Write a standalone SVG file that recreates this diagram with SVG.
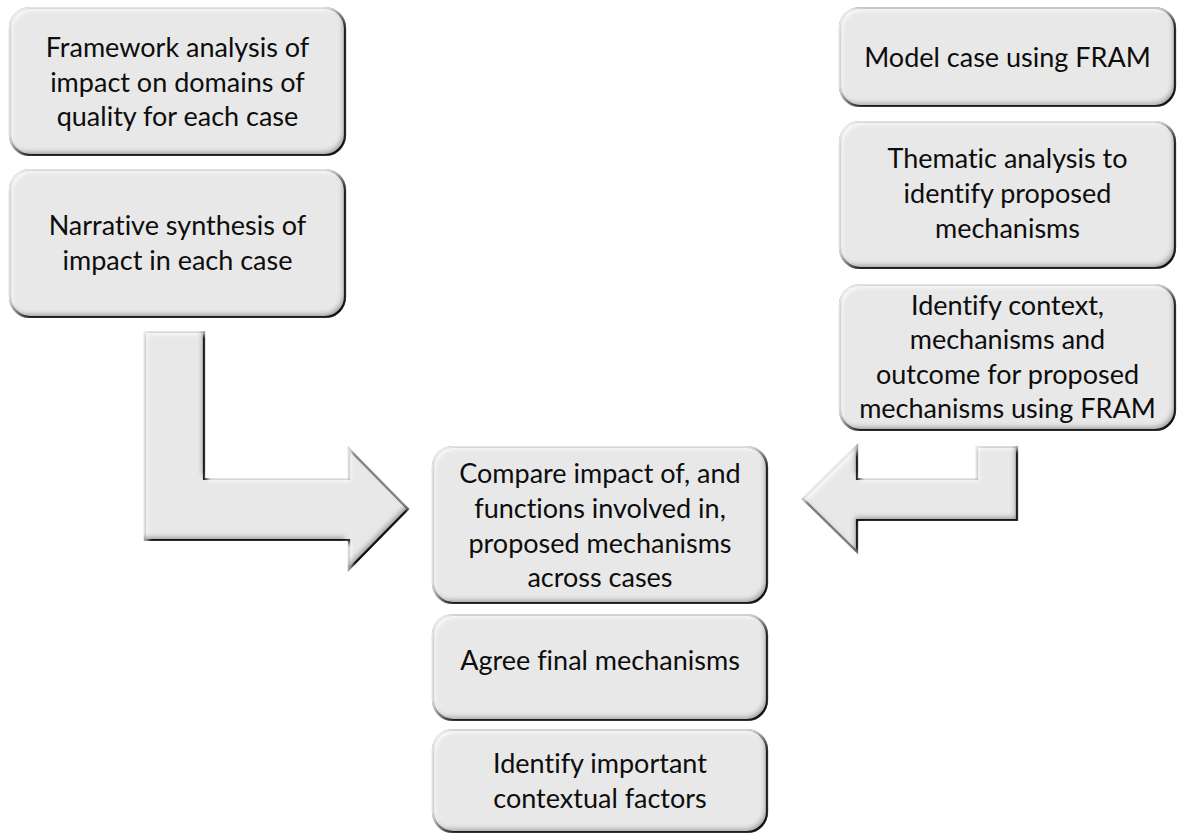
<svg xmlns="http://www.w3.org/2000/svg" width="1179" height="834" viewBox="0 0 1179 834">
  <defs>
    <!-- soft bevel: dark inner edge bottom/right, light inner edge top/left -->
    <filter id="bevel" x="-5%" y="-5%" width="110%" height="110%">
      <feFlood flood-color="#000" flood-opacity="0.6" result="dk"/>
      <feComposite in="dk" in2="SourceAlpha" operator="out" result="outside"/>
      <feGaussianBlur in="outside" stdDeviation="2.5" result="ob"/>
      <feOffset in="ob" dx="-3" dy="-4" result="obo"/>
      <feComposite in="obo" in2="SourceAlpha" operator="in" result="shadeIn"/>
      <feFlood flood-color="#fff" flood-opacity="0.9" result="lt"/>
      <feComposite in="lt" in2="SourceAlpha" operator="out" result="outsideL"/>
      <feGaussianBlur in="outsideL" stdDeviation="2" result="lb"/>
      <feOffset in="lb" dx="3" dy="3" result="lbo"/>
      <feComposite in="lbo" in2="SourceAlpha" operator="in" result="lightIn"/>
      <feMerge>
        <feMergeNode in="SourceGraphic"/>
        <feMergeNode in="lightIn"/>
        <feMergeNode in="shadeIn"/>
      </feMerge>
    </filter>
    <style>
      .box { fill: #e8e8e8; stroke: #222; stroke-width: 2.2; filter: url(#bevel); }
      .arrow { fill: #e8e8e8; stroke: #222; stroke-width: 2.2; stroke-linejoin: miter; filter: url(#bevel); }
      .lbl { font-family: Lato, "Liberation Sans", sans-serif; font-size: 27px; fill: #0d0d0d; text-anchor: middle; font-variant-ligatures: none; }
    </style>
  </defs>

  <!-- connectors: two bent block arrows feeding the comparison step -->
  <g id="connectors">
    <polygon class="arrow" points="145,332 204,332 204,479 349,479 349,449 408,509 349,569 349,540 145,540"/>
    <polygon class="arrow" points="1017,447 1017,520 857,520 857,552 803,499 857,446 857,479 977,479 977,447"/>
  </g>

  <g id="framework">
    <rect class="box" x="10" y="8" width="335" height="147" rx="20"/>
    <text class="lbl" x="177.5" y="57">Framework analysis of</text>
    <text class="lbl" x="177.5" y="92">impact on domains of</text>
    <text class="lbl" x="177.5" y="126">quality for each case</text>
  </g>

  <g id="narrative">
    <rect class="box" x="10" y="170" width="335" height="147" rx="20"/>
    <text class="lbl" x="177.5" y="235">Narrative synthesis of</text>
    <text class="lbl" x="177.5" y="270">impact in each case</text>
  </g>

  <g id="model-case">
    <rect class="box" x="840" y="8" width="335" height="98" rx="20"/>
    <text class="lbl" x="1007.5" y="67">Model case using FRAM</text>
  </g>

  <g id="thematic">
    <rect class="box" x="840" y="122" width="335" height="146" rx="20"/>
    <text class="lbl" x="1007.5" y="168">Thematic analysis to</text>
    <text class="lbl" x="1007.5" y="203">identify proposed</text>
    <text class="lbl" x="1007.5" y="238">mechanisms</text>
  </g>

  <g id="context">
    <rect class="box" x="840" y="285" width="335" height="145" rx="20"/>
    <text class="lbl" x="1007.5" y="315">Identify context,</text>
    <text class="lbl" x="1007.5" y="349">mechanisms and</text>
    <text class="lbl" x="1007.5" y="384">outcome for proposed</text>
    <text class="lbl" x="1007.5" y="418">mechanisms using FRAM</text>
  </g>

  <g id="compare">
    <rect class="box" x="433" y="447" width="334" height="156" rx="20"/>
    <text class="lbl" x="600" y="483">Compare impact of, and</text>
    <text class="lbl" x="600" y="518">functions involved in,</text>
    <text class="lbl" x="600" y="553">proposed mechanisms</text>
    <text class="lbl" x="600" y="587">across cases</text>
  </g>

  <g id="agree">
    <rect class="box" x="433" y="615" width="334" height="105" rx="20"/>
    <text class="lbl" x="600" y="670">Agree final mechanisms</text>
  </g>

  <g id="contextual">
    <rect class="box" x="433" y="730" width="334" height="102" rx="20"/>
    <text class="lbl" x="600" y="773">Identify important</text>
    <text class="lbl" x="600" y="808">contextual factors</text>
  </g>
</svg>
